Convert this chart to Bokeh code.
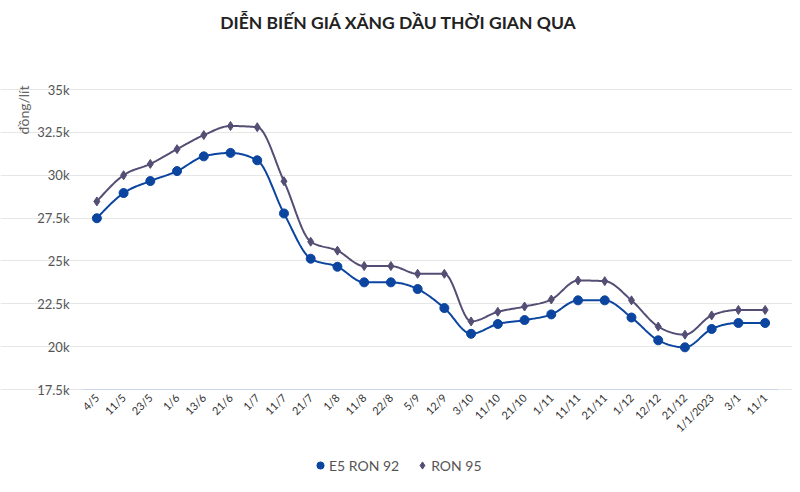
import math
import numpy as np
from bokeh.plotting import figure
from bokeh.models import (FixedTicker, NumeralTickFormatter, Legend, LegendItem,
                          Label, Range1d)
from bokeh.embed import file_html
from bokeh.resources import INLINE

dates = ["4/5", "11/5", "23/5", "1/6", "13/6", "21/6", "1/7", "11/7", "21/7", "1/8",
         "11/8", "22/8", "5/9", "12/9", "3/10", "11/10", "21/10", "1/11", "11/11",
         "21/11", "1/12", "12/12", "21/12", "1/1/2023", "3/1", "11/1"]
e5_ron92 = [27490, 28960, 29660, 30240, 31100, 31300, 30870, 27770, 25130, 24660,
            23750, 23750, 23360, 22250, 20750, 21320, 21550, 21880, 22700, 22700,
            21700, 20370, 19960, 21030, 21380, 21380]
ron95 = [28470, 30000, 30660, 31520, 32340, 32870, 32800, 29650, 26120, 25600,
         24700, 24700, 24250, 24250, 21470, 22030, 22340, 22750, 23860, 23820,
         22700, 21170, 20700, 21820, 22140, 22140]
y_ticks = [17500, 20000, 22500, 25000, 27500, 30000, 32500, 35000]

FONT = "Lato"
C_E5 = "#0b45a0"
C_95 = "#544e74"

# layout (pixels inside the 792x484 canvas)
W, H = 792, 484
PLOT_L, PLOT_R, PLOT_T, PLOT_B = 83, 778, 89, 389


def smooth_path(vals, steps=24):
    """Monotone cubic (d3 curveMonotoneX style) path through the points."""
    y = np.asarray(vals, dtype=float)
    n = len(y)
    s = np.diff(y)
    m = np.zeros(n)
    for i in range(1, n - 1):
        s0, s1 = s[i - 1], s[i]
        pp = (s0 + s1) / 2.0
        m[i] = (np.sign(s0) + np.sign(s1)) * min(abs(s0), abs(s1), 0.5 * abs(pp))
    m[0] = (3 * s[0] - m[1]) / 2.0
    m[-1] = (3 * s[-1] - m[-2]) / 2.0
    xs, ys = [], []
    for i in range(n - 1):
        t = np.linspace(0, 1, steps, endpoint=(i == n - 2))
        h00 = 2 * t**3 - 3 * t**2 + 1
        h10 = t**3 - 2 * t**2 + t
        h01 = -2 * t**3 + 3 * t**2
        h11 = t**3 - t**2
        yy = h00 * y[i] + h10 * m[i] + h01 * y[i + 1] + h11 * m[i + 1]
        xs.extend((i + t).tolist())
        ys.extend(yy.tolist())
    return xs, ys


x_idx = list(range(len(dates)))
x_lo, x_hi = -0.5, len(dates) - 0.5
y_lo, y_hi = y_ticks[0], y_ticks[-1]
kx = (x_hi - x_lo) / (PLOT_R - PLOT_L)
ky = (y_hi - y_lo) / (PLOT_B - PLOT_T)

p = figure(width=W, height=H,
           x_range=Range1d(x_lo - PLOT_L * kx, x_hi + (W - PLOT_R) * kx),
           y_range=Range1d(y_lo - (H - PLOT_B) * ky, y_hi + PLOT_T * ky),
           output_backend="svg", toolbar_location=None,
           min_border=0)
p.title.visible = False
p.outline_line_color = None
p.background_fill_color = "white"
p.border_fill_color = "white"

p.xgrid.grid_line_color = None
p.ygrid.grid_line_color = "#e6e6e6"
p.ygrid.grid_line_width = 1
p.ygrid.bounds = (x_lo, x_hi)

# y axis (drawn at the left edge of the plotting area)
p.yaxis.fixed_location = x_lo
p.yaxis.ticker = FixedTicker(ticks=y_ticks)
p.yaxis.formatter = NumeralTickFormatter(format="0.[0]a")
p.yaxis.axis_line_color = None
p.yaxis.major_tick_line_color = None
p.yaxis.major_tick_out = 0
p.yaxis.major_tick_in = 0
p.yaxis.minor_tick_line_color = None
p.yaxis.major_label_text_font = FONT
p.yaxis.major_label_text_font_size = "13px"
p.yaxis.major_label_text_color = "#555555"
p.yaxis.major_label_standoff = 14

# x axis (drawn at the bottom of the plotting area)
p.xaxis.fixed_location = y_lo
p.xaxis.bounds = (x_lo, x_hi)
p.xaxis.ticker = FixedTicker(ticks=x_idx)
p.xaxis.major_label_overrides = {i: d for i, d in zip(x_idx, dates)}
p.xaxis.major_label_orientation = math.pi / 4
p.xaxis.axis_line_color = "#ccd6eb"
p.xaxis.major_tick_line_color = None
p.xaxis.major_tick_out = 0
p.xaxis.major_tick_in = 0
p.xaxis.minor_tick_line_color = None
p.xaxis.major_label_text_font = FONT
p.xaxis.major_label_text_font_size = "11px"
p.xaxis.major_label_text_color = "#333333"
p.xaxis.major_label_standoff = 6

# lines
sx, sy = smooth_path(ron95)
p.line(sx, sy, line_color=C_95, line_width=2)
sx, sy = smooth_path(e5_ron92)
p.line(sx, sy, line_color=C_E5, line_width=2)

r95 = p.scatter(x_idx, ron95, marker="diamond", size=9, fill_color=C_95,
                line_color=C_95)
re5 = p.scatter(x_idx, e5_ron92, marker="circle", size=9, fill_color=C_E5,
                line_color=C_E5)

legend = Legend(items=[LegendItem(label="E5 RON 92", renderers=[re5]),
                       LegendItem(label="RON 95", renderers=[r95])],
                orientation="horizontal", location=(311, 8),
                label_text_font=FONT, label_text_font_size="14px",
                label_text_color="#555555", border_line_color=None,
                background_fill_alpha=0, glyph_width=18, glyph_height=22,
                spacing=14, label_standoff=0, padding=0, margin=0)
p.add_layout(legend, "center")

title = Label(x=398, y=H - 22, x_units="screen", y_units="screen",
              text="DIỄN BIẾN GIÁ XĂNG DẦU THỜI GIAN QUA", text_align="center",
              text_baseline="middle", text_font=FONT, text_font_size="17.5px",
              text_font_style="bold", text_color="#222222")
p.add_layout(title)

ylab = Label(x=23, y=H - 85, x_units="screen", y_units="screen",
             text="đồng/lít", angle=math.pi / 2, text_align="right",
             text_baseline="middle", text_font=FONT, text_font_size="14px",
             text_color="#666666")
p.add_layout(ylab)

open("out.html", "w").write(file_html(p, INLINE))
